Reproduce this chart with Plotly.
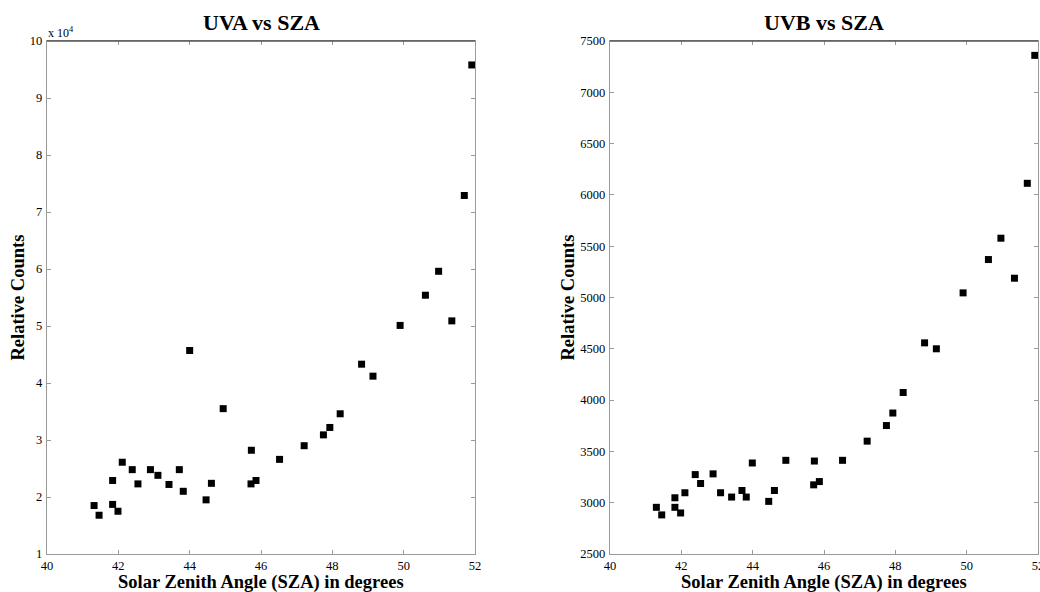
import plotly.graph_objects as go

# UVA relative counts against solar zenith angle (degrees)
uva_sza = [41.32, 41.46, 41.84, 41.84, 41.99, 42.11, 42.39, 42.55, 42.90, 43.11,
           43.42, 43.71, 43.82, 44.00, 44.46, 44.61, 44.94, 45.72, 45.73, 45.86,
           46.52, 47.21, 47.75, 47.93, 48.22, 48.82, 49.14, 49.90, 50.61, 50.98,
           51.35, 51.70, 51.91]
uva_counts = [18500, 16800, 22900, 18700, 17500, 26100, 24800, 22300, 24800, 23800,
              22200, 24800, 21000, 45700, 19500, 22400, 35500, 22300, 28200, 22900,
              26600, 29000, 30900, 32200, 34600, 43300, 41200, 50100, 55400, 59600,
              50900, 72900, 95800]

# UVB relative counts against solar zenith angle (degrees)
uvb_sza = [41.30, 41.45, 41.82, 41.82, 41.98, 42.10, 42.39, 42.54, 42.89, 43.10,
           43.41, 43.70, 43.82, 43.99, 44.45, 44.61, 44.93, 45.71, 45.73, 45.87,
           46.52, 47.21, 47.75, 47.93, 48.22, 48.82, 49.15, 49.90, 50.61, 50.96,
           51.34, 51.70, 51.91]
uvb_counts = [2955, 2881, 3048, 2955, 2900, 3097, 3274, 3187, 3281, 3097,
              3055, 3119, 3055, 3387, 3013, 3119, 3413, 3174, 3406, 3206,
              3413, 3600, 3752, 3874, 4074, 4558, 4500, 5045, 5370, 5578,
              5188, 6113, 7360]

x_ticks = [40, 42, 44, 46, 48, 50, 52]
uva_ticks = [10000 * k for k in range(1, 11)]
uva_ticktext = [str(k) for k in range(1, 11)]
uvb_ticks = [2500, 3000, 3500, 4000, 4500, 5000, 5500, 6000, 6500, 7000, 7500]

W, H = 1040, 592
SERIF = "Liberation Serif"
AXIS_GRAY = "#9a9a9a"


def px_x(p):
    return p / W


def px_y(p):
    return 1 - p / H


left_dom = [px_x(47), px_x(475)]
right_dom = [px_x(610), px_x(1038)]
y_dom = [px_y(554), px_y(41)]

fig = go.Figure()

marker = dict(symbol="square", size=7, color="black", line=dict(width=0))

fig.add_trace(go.Scatter(x=uva_sza, y=uva_counts, mode="markers", marker=marker,
                         xaxis="x", yaxis="y", showlegend=False, cliponaxis=False))
fig.add_trace(go.Scatter(x=uvb_sza, y=uvb_counts, mode="markers", marker=marker,
                         xaxis="x2", yaxis="y2", showlegend=False, cliponaxis=False))

axis_common = dict(
    showline=True, linecolor=AXIS_GRAY, linewidth=1.3, mirror="ticks",
    ticks="inside", ticklen=4, tickcolor=AXIS_GRAY, tickwidth=1,
    showgrid=False, zeroline=False, automargin=False,
    ticklabeloverflow="allow",
    tickfont=dict(family=SERIF, size=12.5, color="black"),
)
y_extra = dict(ticklabelstandoff=1)

fig.update_layout(
    template="none",
    width=W, height=H,
    margin=dict(l=0, r=0, t=0, b=0, pad=0),
    paper_bgcolor="white", plot_bgcolor="white",
    font=dict(family=SERIF, color="black"),
    xaxis=dict(domain=left_dom, range=[40, 52], tickvals=x_ticks, anchor="y",
               **axis_common),
    yaxis=dict(domain=y_dom, range=[10000, 100000], tickvals=uva_ticks,
               ticktext=uva_ticktext, anchor="x", **axis_common, **y_extra),
    xaxis2=dict(domain=right_dom, range=[40, 52], tickvals=x_ticks, anchor="y2",
                **axis_common),
    yaxis2=dict(domain=y_dom, range=[2500, 7500], tickvals=uvb_ticks, anchor="x2",
                **axis_common, **y_extra),
)

# darker top frame lines
for dom in (left_dom, right_dom):
    fig.add_shape(type="line", xref="paper", yref="paper",
                  x0=dom[0], x1=dom[1], y0=y_dom[1], y1=y_dom[1],
                  line=dict(color="#555555", width=1.3))

title_font = dict(family=SERIF, size=22, color="black")
label_font = dict(family=SERIF, size=18.5, color="black")

for dom, text in ((left_dom, "<b>UVA vs SZA</b>"), (right_dom, "<b>UVB vs SZA</b>")):
    cx = (dom[0] + dom[1]) / 2
    fig.add_annotation(x=cx, y=px_y(23), xref="paper", yref="paper", text=text,
                       showarrow=False, font=title_font, xanchor="center", yanchor="middle")
    fig.add_annotation(x=cx, y=px_y(582), xref="paper", yref="paper",
                       text="<b>Solar Zenith Angle (SZA) in degrees</b>",
                       showarrow=False, font=label_font, xanchor="center", yanchor="middle")

for xpos in (17, 567):
    fig.add_annotation(x=px_x(xpos), y=(y_dom[0] + y_dom[1]) / 2, xref="paper", yref="paper",
                       text="<b>Relative Counts</b>", textangle=-90, showarrow=False,
                       font=label_font, xanchor="center", yanchor="middle")

# exponent marker for the UVA axis
fig.add_annotation(x=px_x(46), y=px_y(32), xref="paper", yref="paper",
                   text="x 10<sup>4</sup>", showarrow=False,
                   font=dict(family=SERIF, size=12, color="black"),
                   xanchor="left", yanchor="middle")

fig.write_html("out.html")
